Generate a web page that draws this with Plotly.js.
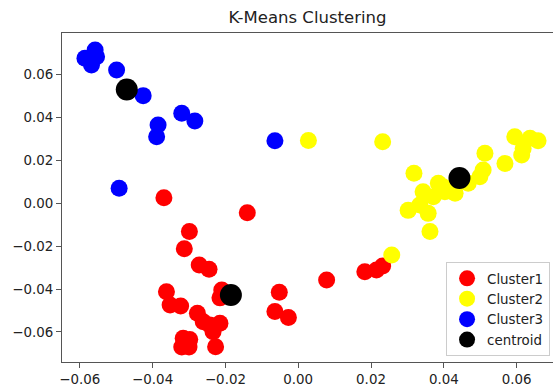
<!DOCTYPE html>
<html>
<head>
<meta charset="utf-8">
<script src="https://cdn.plot.ly/plotly-3.0.1.min.js"></script>
<style>html,body{margin:0;padding:0;background:#fff;}#chart{width:553px;height:390px;}</style>
</head>
<body>
<div id="chart"></div>
<script>
// Cluster 1 (red)
const cluster1X = [-0.0369,-0.0140,-0.0299,-0.0313,-0.0272,-0.0245,-0.0362,-0.0352,-0.0323,-0.0210,-0.0215,-0.0052,-0.0064,-0.0027,-0.0277,-0.0261,-0.0243,-0.0215,-0.0234,-0.0227,-0.0316,-0.0298,-0.0320,-0.0300,0.0078,0.0183,0.0215,0.0232];
const cluster1Y = [0.0026,-0.0044,-0.0132,-0.0212,-0.0288,-0.0308,-0.0412,-0.0474,-0.0479,-0.0404,-0.0441,-0.0415,-0.0505,-0.0533,-0.0513,-0.0552,-0.0567,-0.0559,-0.0599,-0.0669,-0.0629,-0.0635,-0.0670,-0.0670,-0.0358,-0.0319,-0.0311,-0.0292];
// Cluster 2 (yellow)
const cluster2X = [0.0028,0.0232,0.0257,0.0318,0.0362,0.0302,0.0357,0.0334,0.0343,0.0385,0.0371,0.0403,0.0431,0.0398,0.0467,0.0499,0.0508,0.0513,0.0568,0.0595,0.0637,0.0659,0.0618,0.0614,0.0417];
const cluster2Y = [0.0293,0.0287,-0.0241,0.0140,-0.0132,-0.0033,-0.0047,-0.0008,0.0054,0.0093,0.0031,0.0054,0.0047,0.0077,0.0093,0.0124,0.0155,0.0233,0.0186,0.0310,0.0303,0.0292,0.0256,0.0225,0.0062];
// Cluster 3 (blue)
const cluster3X = [-0.0586,-0.0558,-0.0554,-0.0568,-0.0499,-0.0426,-0.0320,-0.0284,-0.0385,-0.0389,-0.0064,-0.0492];
const cluster3Y = [0.0676,0.0715,0.0683,0.0645,0.0621,0.0502,0.0420,0.0384,0.0365,0.0310,0.0292,0.0070];
// Centroids
const centroidX = [-0.0471,-0.0185,0.0443];
const centroidY = [0.0531,-0.0428,0.0118];

const tickVals = [-0.06,-0.04,-0.02,0.00,0.02,0.04,0.06];

const font = 'DejaVu Sans, sans-serif';
function pts(name, x, y, color, size) {
  return {type:'scatter', mode:'markers', name:name, x:x, y:y,
    marker:{color:color, size:size, line:{width:0}}};
}
const data = [
  pts('Cluster1', cluster1X, cluster1Y, '#ff0000', 17),
  pts('Cluster2', cluster2X, cluster2Y, '#ffff00', 17),
  pts('Cluster3', cluster3X, cluster3Y, '#0000ff', 17),
  pts('centroid', centroidX, centroidY, '#000000', 22)
];
const axisCommon = {
  showgrid:false, zeroline:false, showline:true, mirror:true,
  linecolor:'#555', linewidth:1, ticks:'outside', ticklen:5, tickwidth:1, tickcolor:'#555',
  tickvals:tickVals, tickformat:'.2f',
  tickfont:{family:font, size:13.4, color:'#222'}
};
const layout = {
  width:553, height:390,
  margin:{l:62, r:0, t:33, b:28, pad:0},
  paper_bgcolor:'#fff', plot_bgcolor:'#fff',
  title:{text:'K-Means Clustering', font:{family:font, size:16.5, color:'#222'}, x:0.5, xref:'paper', y:0.955, yanchor:'middle'},
  xaxis:Object.assign({}, axisCommon, {range:[-0.0649, 0.0700]}),
  yaxis:Object.assign({}, axisCommon, {range:[-0.0740, 0.0794]}),
  showlegend:true,
  legend:{x:0.994, y:0.018, xanchor:'right', yanchor:'bottom', bgcolor:'rgba(255,255,255,0.85)',
    bordercolor:'#ccc', borderwidth:1, font:{family:font, size:13.4, color:'#222'}, tracegroupgap:0}
};
Plotly.newPlot('chart', data, layout, {displayModeBar:false, staticPlot:true});
</script>
</body>
</html>
